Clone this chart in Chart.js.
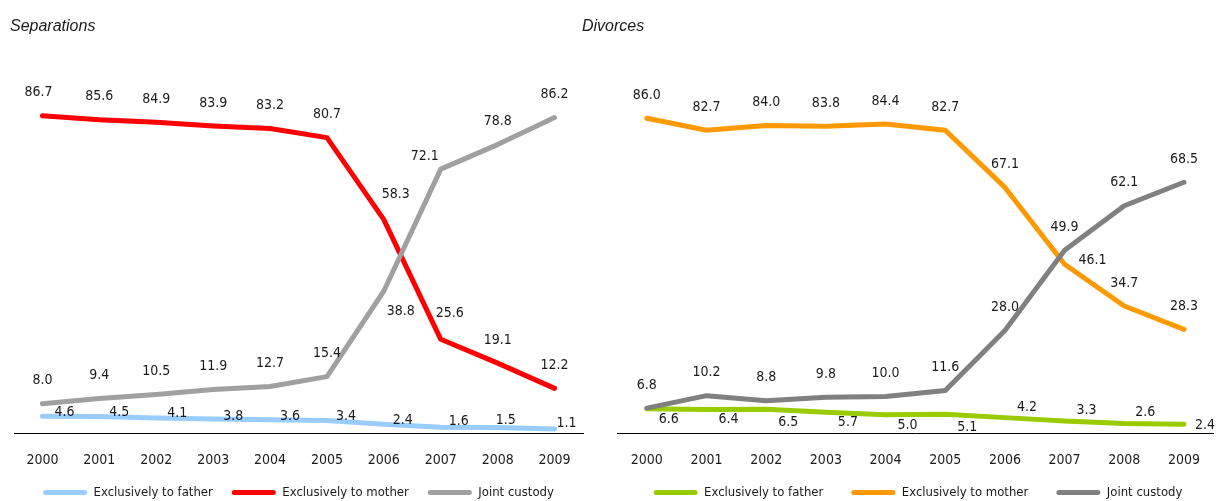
<!DOCTYPE html>
<html>
<head>
<meta charset="utf-8">
<script src="https://cdn.jsdelivr.net/npm/chart.js@4.4.1/dist/chart.umd.min.js"></script>
<style>
  body { margin: 0; width: 1219px; height: 501px; position: relative; background: #fff; overflow: hidden; }
  .box { position: absolute; top: 0; }
  .ttl { position: absolute; top: 17px; font: italic 16px 'Liberation Sans', Arial, sans-serif; color: #1a1a1a; }
</style>
</head>
<body>
<div class="box" style="left:0"><canvas id="sep" width="600" height="509"></canvas></div>
<div class="box" style="left:572px"><canvas id="div" width="647" height="509"></canvas></div>
<div class="ttl" style="left:10px">Separations</div>
<div class="ttl" style="left:582px">Divorces</div>
<script>
const years = ['2000', '2001', '2002', '2003', '2004', '2005', '2006', '2007', '2008', '2009'];
const seriesNames = ['Exclusively to father', 'Exclusively to mother', 'Joint custody'];

// separations
const sepFather = [4.6, 4.5, 4.1, 3.8, 3.6, 3.4, 2.4, 1.6, 1.5, 1.1];
const sepMother = [86.7, 85.6, 84.9, 83.9, 83.2, 80.7, 58.3, 25.6, 19.1, 12.2];
const sepJoint  = [8.0, 9.4, 10.5, 11.9, 12.7, 15.4, 38.8, 72.1, 78.8, 86.2];

// divorces
const divFather = [6.6, 6.4, 6.5, 5.7, 5.0, 5.1, 4.2, 3.3, 2.6, 2.4];
const divMother = [86.0, 82.7, 84.0, 83.8, 84.4, 82.7, 67.1, 46.1, 34.7, 28.3];
const divJoint  = [6.8, 10.2, 8.8, 9.8, 10.0, 11.6, 28.0, 49.9, 62.1, 68.5];

const sepColors = ['#99ccff', '#ff0000', '#a0a0a0'];
const divColors = ['#99cc00', '#ff9900', '#808080'];

const FONT = "'Liberation Sans Narrow', 'DejaVu Sans Condensed', Roboto, sans-serif";
const TXT = '#1a1a1a';

// where each value label sits relative to its point (default: above)
const sepShift = {
  0: [[22,-4],[20,-4],[21,-5],[20,-3],[20,-3],[19,-4],[19,-4],[18,-6],[8,-7],[12,-6]],
  1: {0: [-4,-23], 6: [12,-25], 7: [9,-26]},
  2: {6: [17,20], 7: [-16,-13]}
};
const divShift = {
  0: [[22,11],[22,10],[22,13],[22,10],[22,11],[22,13],[22,-10],[22,-11],[21,-11],[21,1]],
  1: {7: [28,-4]},
  2: {}
};

const valueLabels = {
  id: 'valueLabels',
  afterLayout(chart) {
    // year labels hang below the thin axis box, don't clip them
    chart.scales.x.bottom = chart.height;
  },
  afterDatasetsDraw(chart, args, opts) {
    const ctx = chart.ctx;
    ctx.save();
    ctx.font = '14px ' + FONT;
    ctx.fillStyle = TXT;
    ctx.textAlign = 'center';
    ctx.textBaseline = 'middle';
    chart.data.datasets.forEach((ds, i) => {
      chart.getDatasetMeta(i).data.forEach((pt, j) => {
        const off = (opts.shift[i] && opts.shift[i][j]) || [0, -23];
        ctx.fillText(ds.data[j].toFixed(1), pt.x + off[0], pt.y + off[1]);
      });
    });
    ctx.restore();
  }
};

function makeChart(id, values, colors, shift, pad, gap) {
  return new Chart(document.getElementById(id), {
    type: 'line',
    data: {
      labels: years,
      datasets: values.map((v, i) => ({
        label: seriesNames[i],
        data: v,
        borderColor: colors[i],
        backgroundColor: colors[i],
        borderWidth: 5,
        borderCapStyle: 'round',
        borderJoinStyle: 'round',
        pointRadius: 0,
        tension: 0,
        order: [1, 2, 0][i]
      }))
    },
    options: {
      responsive: false,
      animation: false,
      layout: { padding: pad },
      scales: {
        x: {
          offset: true,
          grid: { display: false, drawTicks: false },
          border: { display: true, color: '#000', width: 1 },
          ticks: { padding: 19, color: TXT, font: { family: FONT, size: 14 } },
          // legend is 13 + gap + 10 tall, the rest under the plot is the axis
          afterFit(scale) { scale.height = 509 - 433 - (23 + gap); }
        },
        y: { display: false, min: 0, max: 100 }
      },
      plugins: {
        legend: {
          position: 'bottom',
          labels: {
            boxWidth: 44,
            boxHeight: 5,
            useBorderRadius: true,
            borderRadius: 2.5,
            padding: gap,
            color: TXT,
            font: { family: FONT, size: 13 },
            sort: (a, b) => a.datasetIndex - b.datasetIndex,
            generateLabels(chart) {
              return Chart.defaults.plugins.legend.labels.generateLabels(chart)
                .map(l => ({ ...l, lineWidth: 0 }));
            }
          }
        },
        tooltip: { enabled: false },
        valueLabels: { shift: shift }
      }
    },
    plugins: [valueLabels]
  });
}

makeChart('sep', [sepFather, sepMother, sepJoint], sepColors, sepShift,
  { top: 67, left: 14, right: 17, bottom: 0 }, 19);
makeChart('div', [divFather, divMother, divJoint], divColors, divShift,
  { top: 67, left: 45, right: 0, bottom: 0 }, 28);
</script>
</body>
</html>
